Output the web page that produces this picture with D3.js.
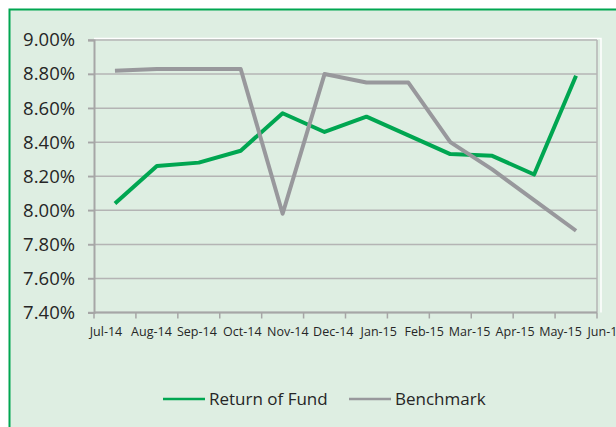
<!DOCTYPE html>
<html lang="en">
<head>
  <meta charset="UTF-8">
  <title>Return of Fund vs Benchmark</title>
  <script src="https://d3js.org/d3.v7.min.js"></script>
  <style>
    body { margin: 0; background: #ffffff; }
    text { font-family: "Open Sans", sans-serif; fill: #262626; }
  </style>
</head>
<body>
<div id="chart"></div>
<script>
  // chart values
  const months = ["Jul-14", "Aug-14", "Sep-14", "Oct-14", "Nov-14", "Dec-14",
                  "Jan-15", "Feb-15", "Mar-15", "Apr-15", "May-15", "Jun-15"];
  const fundReturn = [8.04, 8.26, 8.28, 8.35, 8.57, 8.46, 8.55, 8.44, 8.33, 8.32, 8.21, 8.79];
  const benchmark  = [8.82, 8.83, 8.83, 8.83, 7.98, 8.80, 8.75, 8.75, 8.40, 8.24, 8.06, 7.88];
  const yTicks = [7.4, 7.6, 7.8, 8.0, 8.2, 8.4, 8.6, 8.8, 9.0];
  const seriesNames = ["Return of Fund", "Benchmark"];
  const seriesColors = ["#00a651", "#98989c"];

  const width = 616, height = 427;
  const plot = { left: 94, right: 597, top: 40, bottom: 312.5 };

  const svg = d3.select("#chart").append("svg")
      .attr("width", width)
      .attr("height", height);

  // chart area with green border (extends past the right and bottom edges)
  svg.append("rect")
      .attr("x", 9.5).attr("y", 9.5)
      .attr("width", width + 20).attr("height", height + 20)
      .attr("fill", "#deeee2")
      .attr("stroke", "#00a651")
      .attr("stroke-width", 2);

  const x = d3.scaleBand().domain(months).range([plot.left, plot.right]);
  const xLabel = d3.scalePoint().domain(months).range([106, 606]);
  const y = d3.scaleLinear().domain([7.4, 9.0]).range([plot.bottom, plot.top]);

  // white edge along the top and right of the plot area
  svg.append("path")
      .attr("d", `M${plot.left},${plot.top - 1.5}H${plot.right + 4}V${plot.bottom}`)
      .attr("fill", "none")
      .attr("stroke", "#ffffff")
      .attr("stroke-width", 1.5);

  // horizontal gridlines
  svg.append("g")
      .selectAll("line")
      .data(yTicks)
      .join("line")
      .attr("x1", plot.left - 6)
      .attr("x2", plot.right)
      .attr("y1", d => y(d))
      .attr("y2", d => y(d))
      .attr("stroke", "#b4b4b4")
      .attr("stroke-width", 1.5);

  // right border of plot area
  svg.append("line")
      .attr("x1", plot.right).attr("x2", plot.right)
      .attr("y1", plot.top).attr("y2", plot.bottom)
      .attr("stroke", "#b4b4b4")
      .attr("stroke-width", 1.5);

  // y axis
  const yAxis = svg.append("g")
      .attr("transform", `translate(${plot.left},0)`)
      .call(d3.axisLeft(y).tickValues(yTicks).tickSize(6).tickPadding(13)
          .tickFormat(d => d.toFixed(2) + "%"));
  yAxis.select(".domain").attr("stroke", "#a6a6a6").attr("stroke-width", 2);
  yAxis.selectAll(".tick line").attr("stroke", "#a6a6a6").attr("stroke-width", 1.5);
  yAxis.selectAll("text")
      .attr("font-size", 18.5)
      .attr("font-family", "Open Sans")
      .attr("fill", "#262626");

  // x axis: ticks at category boundaries
  const boundaries = months.map(m => x(m)).concat([plot.right]);
  const xAxis = svg.append("g");
  xAxis.append("line")
      .attr("x1", plot.left).attr("x2", plot.right)
      .attr("y1", plot.bottom).attr("y2", plot.bottom)
      .attr("stroke", "#a6a6a6")
      .attr("stroke-width", 2);
  xAxis.selectAll(".xtick")
      .data(boundaries)
      .join("line")
      .attr("class", "xtick")
      .attr("x1", d => d).attr("x2", d => d)
      .attr("y1", plot.bottom).attr("y2", plot.bottom + 6)
      .attr("stroke", "#a6a6a6")
      .attr("stroke-width", 1.5);
  xAxis.selectAll(".xlabel")
      .data(months)
      .join("text")
      .attr("class", "xlabel")
      .attr("x", d => xLabel(d))
      .attr("y", 336)
      .attr("text-anchor", "middle")
      .attr("font-size", 12.5)
      .text(d => d);

  // lines
  const line = d3.line()
      .x((d, i) => x(months[i]) + x.bandwidth() / 2)
      .y(d => y(d));

  [fundReturn, benchmark].forEach((values, k) => {
    svg.append("path")
        .datum(values)
        .attr("fill", "none")
        .attr("stroke", seriesColors[k])
        .attr("stroke-width", 4)
        .attr("stroke-linejoin", "round")
        .attr("d", line);
  });

  // legend
  const legendX = d3.scaleOrdinal().domain(seriesNames).range([163, 349]);
  const legend = svg.append("g")
      .selectAll("g")
      .data(seriesNames)
      .join("g")
      .attr("transform", d => `translate(${legendX(d)},399)`);
  legend.append("line")
      .attr("x1", 0).attr("x2", 42)
      .attr("stroke", (d, i) => seriesColors[i])
      .attr("stroke-width", 2.5);
  legend.append("text")
      .attr("x", 46)
      .attr("y", 6)
      .attr("font-size", 17)
      .text(d => d);
</script>
</body>
</html>
